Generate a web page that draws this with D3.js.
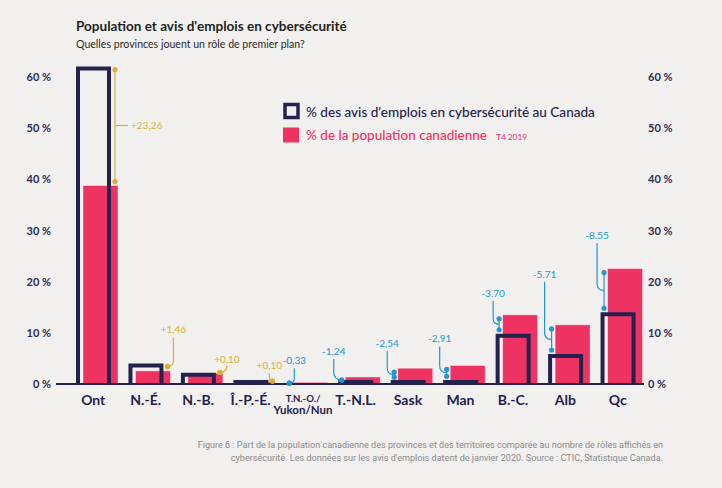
<!DOCTYPE html>
<html><head><meta charset="utf-8">
<script src="https://cdn.jsdelivr.net/npm/d3@7"></script>
<style>
html,body{margin:0;padding:0;background:#f2f0ee;}
svg{display:block;font-family:Lato,"Open Sans",sans-serif;}
</style></head><body>
<svg id="c" width="722" height="488"></svg>
<script>
// ---- data ----
const categories = ["Ont","N.-É.","N.-B.","Î.-P.-É.","T.N.-O./Yukon/Nun","T.-N.L.","Sask","Man","B.-C.","Alb","Qc"];
const jobShare = [62.05, 4.03, 2.2, 0.52, 0, 0.14, 0.55, 0.72, 9.82, 5.86, 14.01];
const popShare = [38.79, 2.57, 2.1, 0.42, 0.33, 1.38, 3.09, 3.63, 13.52, 11.57, 22.56];
const gapLabels = ["+23,26","+1,46","+0,10","+0,10","-0,33","-1,24","-2,54","-2,91","-3.70","-5.71","-8.55"];
const yTicks = [0,10,20,30,40,50,60];
const legendLabels = ["% des avis d'emplois en cybersécurité au Canada","% de la population canadienne","T4 2019"];

// ---- layout (not data) ----
const leaderLayout = [
  {dx:13, lift:0}, {dx:6, lift:30}, {dx:7, lift:10}, {dx:-3, lift:12},
  {dx:5, lift:18}, {dx:-8, lift:22}, {dx:-7, lift:21}, {dx:-7, lift:23},
  {dx:-6, lift:18}, {dx:-7, lift:47}, {dx:-7, lift:29.5}
];

const NAVY="#25214f", PINK="#ee3362", GOLD="#d6b034", BLUE="#2196d3";
const svg = d3.select("#c");
svg.append("rect").attr("width",722).attr("height",488).attr("fill","#f2f0ee");

const x = d3.scaleBand().domain(categories).range([67,644]).paddingInner(0).paddingOuter(0);
const y = d3.scaleLinear().domain([0,60]).range([384,77]);
const y0 = y(0);

const rows = categories.map((c,i)=>({c, i, job:jobShare[i], pop:popShare[i], lab:gapLabels[i], L:leaderLayout[i]}));

function fit(sel, w){
  const cur = parseFloat(sel.attr("font-size"));
  const L = sel.node().getComputedTextLength();
  if (L>0) sel.attr("font-size", cur*w/L);
  return sel;
}

// Title
fit(svg.append("text").attr("x",76).attr("y",31).attr("font-size",14).attr("font-weight",700)
  .attr("fill","#231f20").text("Population et avis d'emplois en cybersécurité"),271);
fit(svg.append("text").attr("x",76).attr("y",48).attr("font-size",10).attr("font-weight",400)
  .attr("fill","#2a2a2a").text("Quelles provinces jouent un rôle de premier plan?"),229);

// Axes
const axL = svg.append("g").attr("transform","translate(51,0)")
  .call(d3.axisLeft(y).tickValues(yTicks).tickSize(0).tickPadding(0).tickFormat(d=>d+" %"));
const axR = svg.append("g").attr("transform","translate(648,0)")
  .call(d3.axisRight(y).tickValues(yTicks).tickSize(0).tickPadding(0).tickFormat(d=>d+" %"));
[axL,axR].forEach(a=>{
  a.select(".domain").remove();
  a.selectAll("text").attr("font-family","Lato,sans-serif").attr("font-size",11).attr("font-weight",700).attr("fill","#2d2b55");
});

// Population bars
svg.append("g").selectAll("rect").data(rows).join("rect")
  .attr("x",d=>x(d.c)+16).attr("width",35)
  .attr("y",d=>y(d.pop)).attr("height",d=>y0-y(d.pop))
  .attr("fill",PINK).attr("stroke","rgba(255,255,255,0.55)").attr("stroke-width",0.8);

// Job outline bars
svg.append("g").selectAll("path").data(rows.filter(d=>d.job>0)).join("path")
  .attr("d",d=>{
    const x0 = x(d.c)+9;
    const yt = Math.min(y(d.job)+2, y0-2);
    return `M${x0+2},${y0}V${yt}H${x0+33}V${y0}`;
  })
  .attr("fill","none").attr("stroke",NAVY).attr("stroke-width",4).attr("stroke-linejoin","miter");

// Baseline
svg.append("line").attr("x1",56).attr("x2",644).attr("y1",y0).attr("y2",y0)
  .attr("stroke",NAVY).attr("stroke-width",2);

// Gap annotations
const ann = svg.append("g");
rows.forEach(d=>{
  const pos = d.job >= d.pop;
  const col = pos ? GOLD : BLUE;
  const xd = pos ? x(d.c)+48 : x(d.c)+12.5;
  let top, bot;
  if (pos){ top = y(d.job)+3; bot = y(d.pop)-4; }
  else { top = y(d.pop)+4; bot = y(d.job)-4; }
  if (top > bot){ const m=(top+bot)/2; top=m; bot=m; }
  const mid = (top+bot)/2;
  ann.append("line").attr("x1",xd).attr("x2",xd).attr("y1",top).attr("y2",bot)
    .attr("stroke",col).attr("stroke-width",1.2);
  [top,bot].forEach(v=>ann.append("circle").attr("cx",xd).attr("cy",v).attr("r",2.6).attr("fill",col));
  const dx = d.L.dx;
  if (d.i===0){
    ann.append("line").attr("x1",xd).attr("x2",xd+dx).attr("y1",mid).attr("y2",mid)
      .attr("stroke",col).attr("stroke-width",1.2);
    ann.append("text").attr("x",xd+dx+3).attr("y",mid).attr("dy","0.35em")
      .attr("font-size",10).attr("fill",col).text(d.lab);
  } else {
    const base = Math.min(y(d.job),y(d.pop)) - d.L.lift;
    const lx = xd+dx;
    const p = dx===0 ? `M${xd},${mid}V${base+4}`
      : `M${xd},${mid}Q${lx},${mid} ${lx},${mid-Math.abs(dx)}V${base+4}`;
    ann.append("path").attr("d",p).attr("fill","none").attr("stroke",col).attr("stroke-width",1.2);
    ann.append("text").attr("x",lx).attr("y",base).attr("text-anchor","middle")
      .attr("font-size",10).attr("fill",col).text(d.lab);
  }
});

// Category labels
const cat = svg.append("g");
rows.forEach(d=>{
  const cx = x(d.c)+x.bandwidth()/2;
  if (d.c.indexOf("/Yukon")>0){
    cat.append("text").attr("x",cx).attr("y",402).attr("text-anchor","middle")
      .attr("font-size",9.5).attr("font-weight",700).attr("fill",NAVY).text("T.N.-O./");
    cat.append("text").attr("x",cx).attr("y",413.5).attr("text-anchor","middle")
      .attr("font-size",11.5).attr("font-weight",700).attr("fill",NAVY).text("Yukon/Nun");
  } else {
    cat.append("text").attr("x",cx).attr("y",404.5).attr("text-anchor","middle")
      .attr("font-size",14).attr("font-weight",700).attr("fill",NAVY).text(d.c);
  }
});

// Legend
svg.append("rect").attr("x",285).attr("y",104.5).attr("width",13).attr("height",13)
  .attr("fill","none").attr("stroke",NAVY).attr("stroke-width",3.5);
svg.append("rect").attr("x",283).attr("y",127.5).attr("width",16).attr("height",15).attr("fill",PINK);
fit(svg.append("text").attr("x",306).attr("y",116.5).attr("font-size",14).attr("font-weight",500)
  .attr("fill",NAVY).text(legendLabels[0]),289);
fit(svg.append("text").attr("x",306).attr("y",140).attr("font-size",14).attr("font-weight",500)
  .attr("fill",PINK).text(legendLabels[1]),181);
fit(svg.append("text").attr("x",496).attr("y",140).attr("font-size",8).attr("font-weight",400)
  .attr("fill",PINK).text(legendLabels[2]),31);

// Caption
const capFont = "Roboto,'Liberation Sans',sans-serif";
fit(svg.append("text").attr("x",663).attr("y",448).attr("text-anchor","end").attr("font-family",capFont)
  .attr("font-size",9.5).attr("fill","#8a8a8a")
  .text("Figure 6 : Part de la population canadienne des provinces et des territoires comparée au nombre de rôles affichés en"),466);
fit(svg.append("text").attr("x",663).attr("y",461).attr("text-anchor","end").attr("font-family",capFont)
  .attr("font-size",9.5).attr("fill","#8a8a8a")
  .text("cybersécurité. Les données sur les avis d'emplois datent de janvier 2020. Source : CTIC, Statistique Canada."),433);
</script>
</body></html>
